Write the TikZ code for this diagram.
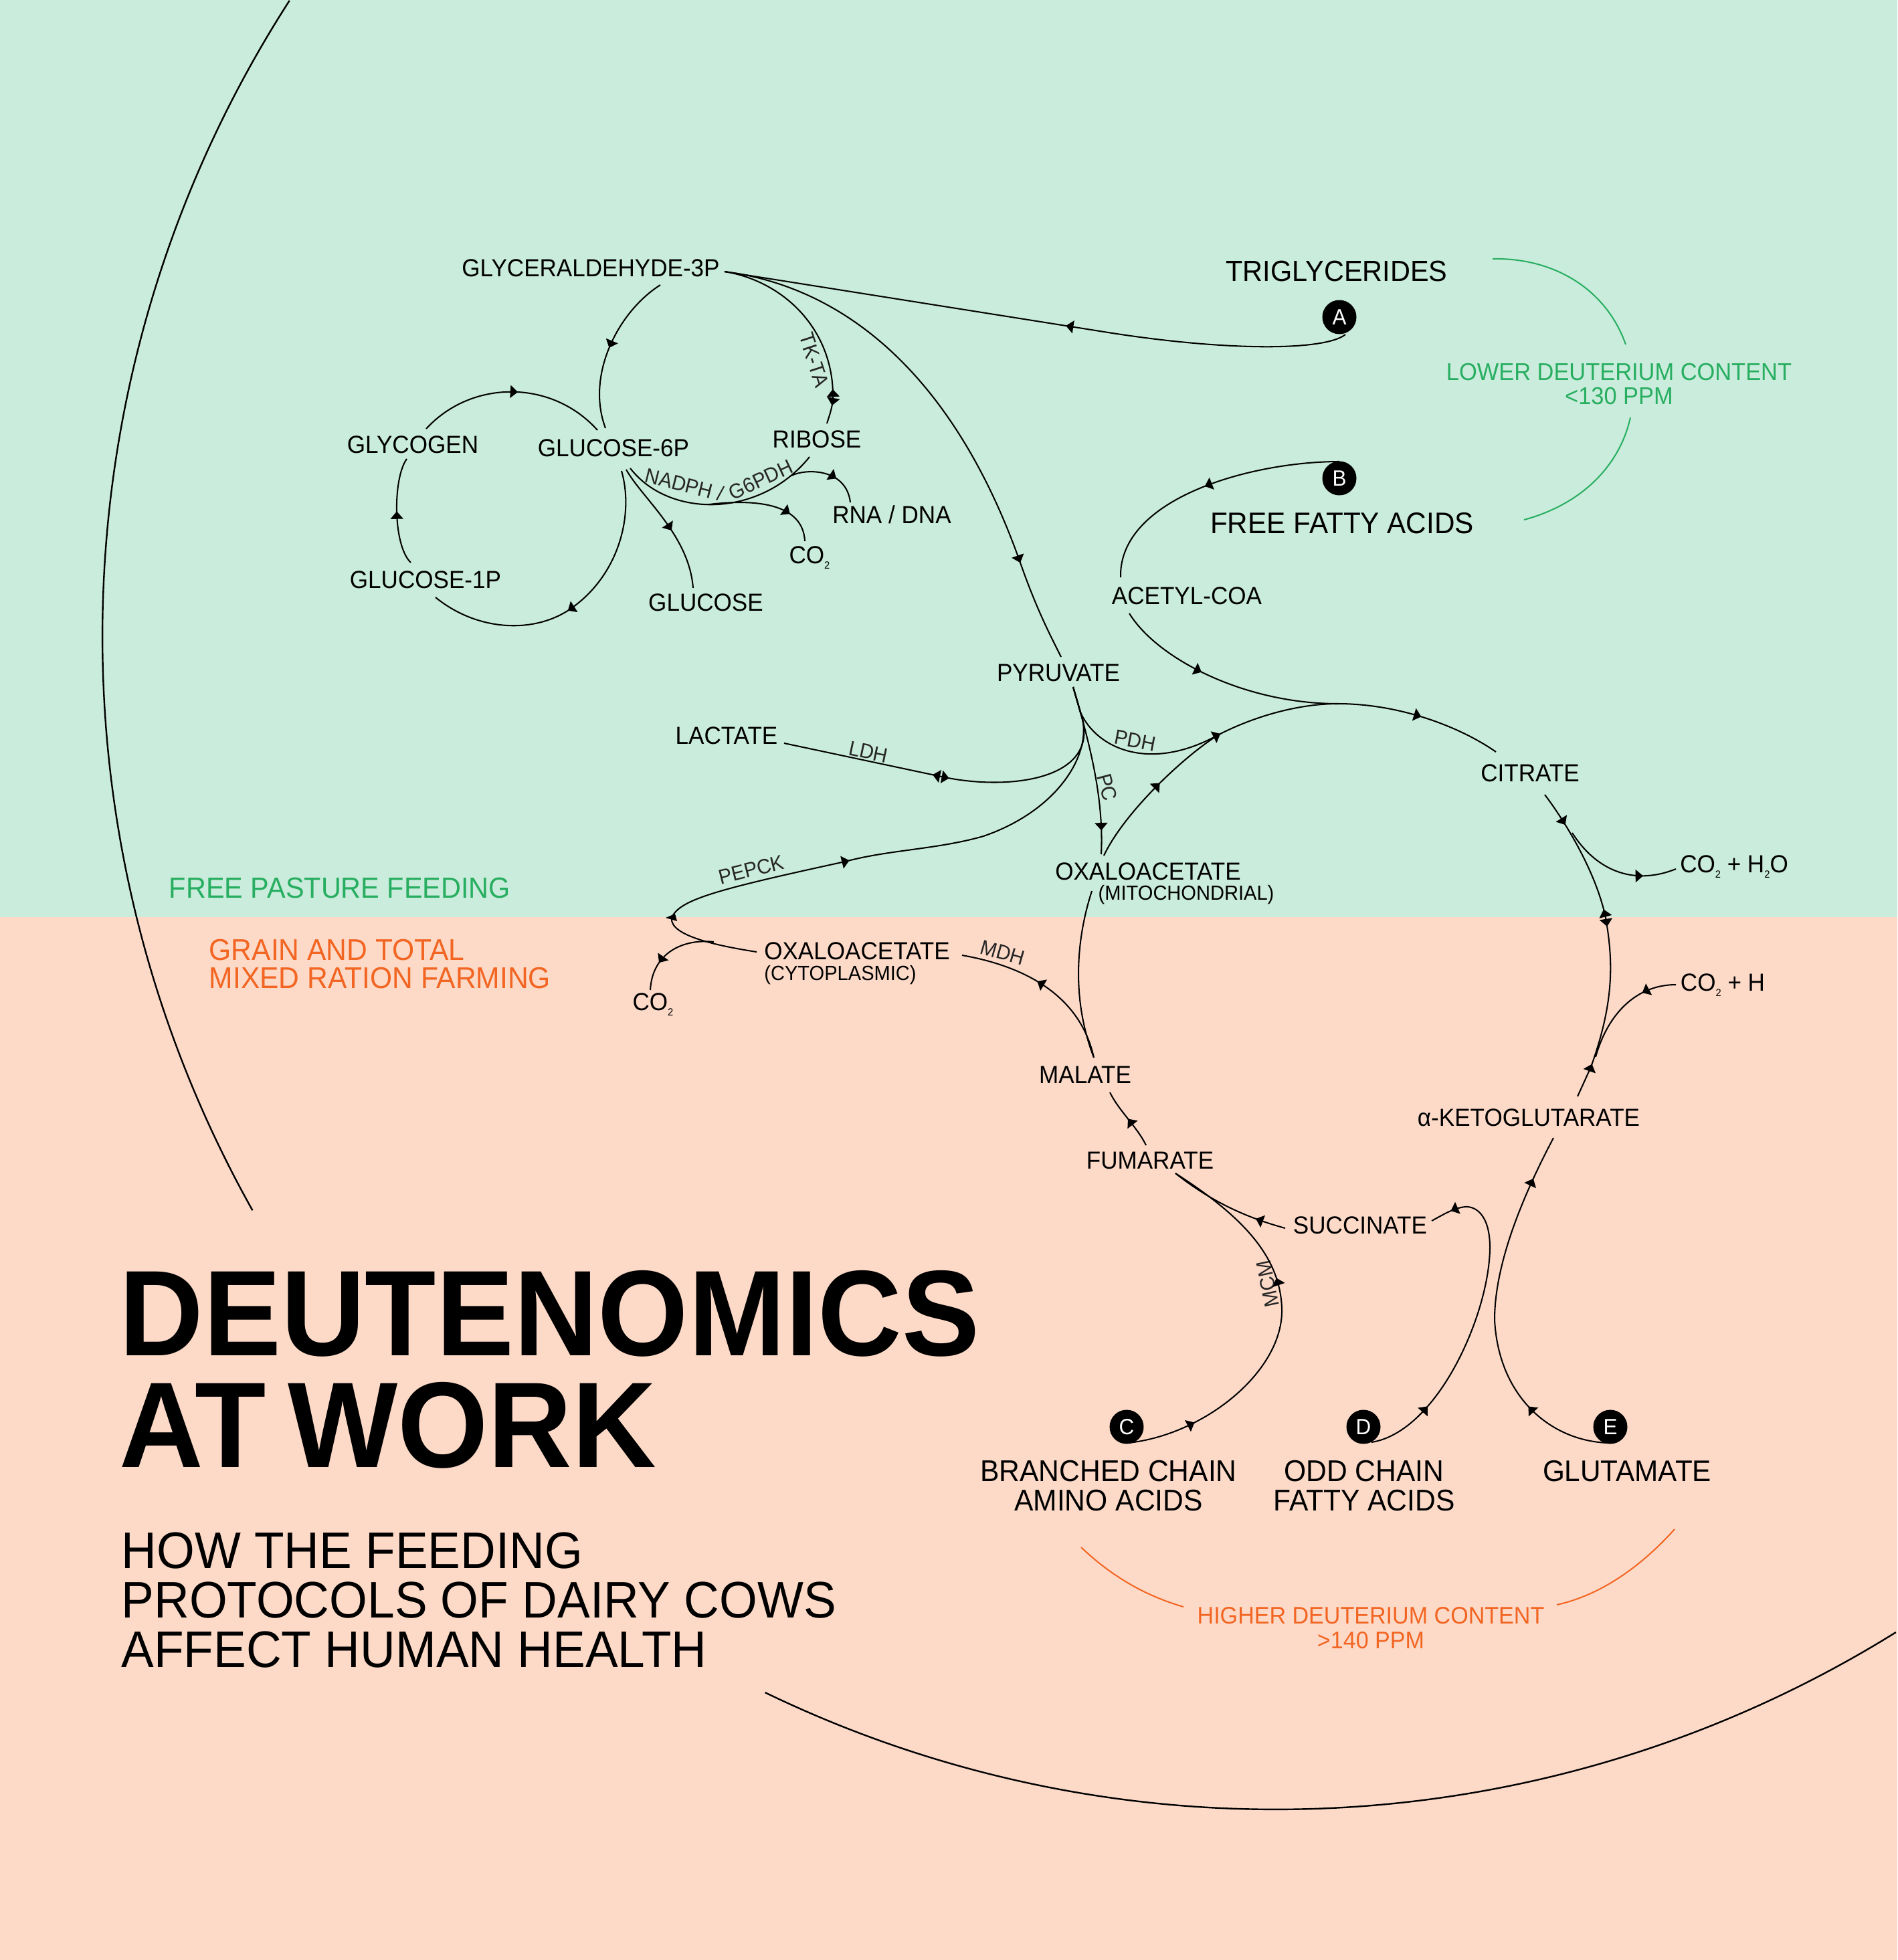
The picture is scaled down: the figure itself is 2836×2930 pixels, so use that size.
\documentclass[tikz,border=0pt]{standalone}
\usepackage{fontspec}
\setmainfont[FakeStretch=0.95]{Liberation Sans}
\newfontfamily\titlefont[FakeStretch=0.955,WordSpace=0.68]{Liberation Sans}
\usetikzlibrary{arrows.meta,decorations.markings}
\definecolor{pasture}{RGB}{202,236,220}
\definecolor{ration}{RGB}{253,218,200}
\definecolor{lowgreen}{RGB}{39,174,96}
\definecolor{highorange}{RGB}{242,101,34}
\newcommand{\subtwo}{\raisebox{-.22em}{\fontsize{4.4pt}{4.4pt}\selectfont 2}}
\tikzset{
  flowtip/.tip={Triangle[length=3.2pt,width=5.4pt]},
  tipat/.style={postaction={decorate,decoration={markings,mark=at position #1 with {\arrow{flowtip}}}}},
  tipback/.style={postaction={decorate,decoration={markings,mark=at position #1 with {\arrowreversed{flowtip}}}}},
  flow/.style={draw,line width=0.58pt},
  ring/.style={draw,line width=0.68pt},
  metab/.style={inner sep=0pt,text height=7.5pt,text depth=0pt,font=\fontsize{10.5pt}{12pt}\selectfont},
  metablg/.style={inner sep=0pt,text height=9.05pt,text depth=0pt,font=\fontsize{12.65pt}{14pt}\selectfont},
  metabsm/.style={inner sep=0pt,text height=6.25pt,text depth=0pt,font=\fontsize{8.7pt}{10pt}\selectfont},
  multilg/.style={inner sep=0pt,align=center,font=\fontsize{12.75pt}{12.5pt}\selectfont},
  enzyme/.style={inner sep=0pt,text=black!85,font=\fontsize{8.8pt}{10pt}\selectfont},
  badge/.style={circle,fill=black,text=white,inner sep=0pt,minimum size=14.5pt,font=\fontsize{9.4pt}{10pt}\selectfont},
  lownote/.style={inner sep=0pt,align=center,text=lowgreen,font=\fontsize{10.3pt}{10.5pt}\selectfont},
  highnote/.style={inner sep=0pt,align=center,text=highorange,font=\fontsize{10.2pt}{10.5pt}\selectfont},
  lowarc/.style={draw=lowgreen,line width=0.58pt},
  higharc/.style={draw=highorange,line width=0.58pt},
}
\begin{document}
\begin{tikzpicture}[x=0.01cm,y=-0.01cm]
\useasboundingbox (0,0) rectangle (2836,2930);
\fill[pasture] (0,0) rectangle (2836,1371);
\fill[ration] (0,1371) rectangle (2836,2930);

\coordinate (ringcenter) at (1907,951);
\draw[ring] (ringcenter) ++(212.8:1754) arc[start angle=212.8,end angle=150.7,radius=1754];
\draw[ring] (ringcenter) ++(115.8:1754) arc[start angle=115.8,end angle=58.1,radius=1754];

\node[metab] (g3p) at (883,400) {GLYCERALDEHYDE-3P};
\node[metab] (glycogen) at (617,664) {GLYCOGEN};
\node[metab] (g6p) at (917,669) {GLUCOSE-6P};
\node[metab] (ribose) at (1221,656) {RIBOSE};
\node[metab] (rna) at (1333,769) {RNA / DNA};
\node[metab] (co2a) at (1210,829) {CO\subtwo};
\node[metab] (g1p) at (636,866) {GLUCOSE-1P};
\node[metab] (glucose) at (1055,900) {GLUCOSE};
\node[metab] (acetyl) at (1774,890) {ACETYL-COA};
\node[metab] (pyruvate) at (1582,1005) {PYRUVATE};
\node[metab] (lactate) at (1086,1099) {LACTATE};
\node[metab] (citrate) at (2287,1155) {CITRATE};
\node[metab] (co2h2o) at (2592,1291) {CO\subtwo\ + H\subtwo O};
\node[metab] (oaamit) at (1716,1302) {OXALOACETATE};
\node[metabsm] (mito) at (1773,1334) {(MITOCHONDRIAL)};
\node[metab] (oaacyt) at (1281,1421) {OXALOACETATE};
\node[metabsm] (cyto) at (1256,1454) {(CYTOPLASMIC)};
\node[metab] (co2b) at (976,1497) {CO\subtwo};
\node[metab] (co2h) at (2575,1468) {CO\subtwo\ + H};
\node[metab] (malate) at (1622,1606) {MALATE};
\node[metab] (akg) at (2285,1670) {α-KETOGLUTARATE};
\node[metab] (fumarate) at (1719,1734) {FUMARATE};
\node[metab] (succinate) at (2033,1831) {SUCCINATE};

\node[metablg,font=\fontsize{12.4pt}{14pt}\selectfont] (tri) at (1998,405) {TRIGLYCERIDES};
\node[metablg] (ffa) at (2006,782) {FREE FATTY ACIDS};
\node[multilg] (branched) at (1657,2221) {BRANCHED CHAIN\\AMINO ACIDS};
\node[multilg] (oddchain) at (2039,2221) {ODD CHAIN\\FATTY ACIDS};
\node[metablg] (glutamate) at (2432,2199) {GLUTAMATE};

\node[badge] (nodeA) at (2002,474) {A};
\node[badge] (nodeB) at (2002,715) {B};
\node[badge] (nodeC) at (1684,2133) {C};
\node[badge] (nodeD) at (2038,2133) {D};
\node[badge] (nodeE) at (2407,2133) {E};

\node[lownote] (lownotes) at (2420,574) {LOWER DEUTERIUM CONTENT\\<130 PPM};
\node[highnote] (highnotes) at (2049,2434) {HIGHER DEUTERIUM CONTENT\\>140 PPM};
\node[inner sep=0pt,text=lowgreen,font=\fontsize{12.4pt}{12.4pt}\selectfont] (freefeed) at (508,1327) {FREE PASTURE FEEDING};
\node[inner sep=0pt,anchor=west,align=left,text=highorange,font=\fontsize{12.75pt}{12.2pt}\selectfont] (grainfeed) at (312,1441) {GRAIN AND TOTAL\\MIXED RATION FARMING};

\node[inner sep=0pt,anchor=west,align=left,font=\titlefont\bfseries\fontsize{51.8pt}{47.5pt}\selectfont] (title) at (178,2047) {DEUTENOMICS\\AT WORK};
\node[inner sep=0pt,anchor=west,align=left,font=\fontsize{21.85pt}{21.15pt}\selectfont] (subtitle) at (181,2392) {HOW THE FEEDING\\PROTOCOLS OF DAIRY COWS\\AFFECT HUMAN HEALTH};

\node[enzyme,rotate=-72] (tkta) at (1217,538) {TK-TA};
\node[enzyme,rotate=-14] (nadph) at (1023,724) {NADPH /};
\node[enzyme,rotate=25] (g6pdh) at (1137,717) {G6PDH};
\node[enzyme,rotate=-12] (ldh) at (1298,1124) {LDH};
\node[enzyme,rotate=-11] (pdh) at (1697,1107) {PDH};
\node[enzyme,rotate=-75] (pc) at (1655,1177) {PC};
\node[enzyme,rotate=14] (pepck) at (1123,1300) {PEPCK};
\node[enzyme,rotate=-16] (mdh) at (1499,1424) {MDH};
\node[enzyme,rotate=102] (mcm) at (1895,1919) {MCM};

\coordinate (co2fork) at (1060,754);
\coordinate (rnafork) at (1183,711);
\coordinate (co2cfork) at (1067,1408);
\coordinate (h2ofork) at (2350,1245);
\coordinate (cohfork) at (2385,1580);

\draw[flow,tipat=.45] ([shift={(9,26)}]nodeA.center) .. controls (1980,525) and (1830,525) .. (1650,496) -- ([shift={(200,6)}]g3p.center);
\draw[flow,tipat=.5] ([shift={(104,26)}]g3p.center) .. controls (925,465) and (875,560) .. ([shift={(-12,-29)}]g6p.center);
\draw[flow,tipat=.91,tipback=.832] ([shift={(200,6)}]g3p.center) .. controls (1170,420) and (1243,490) .. (1245,588) .. controls (1246,605) and (1240,620) .. ([shift={(15,-23)}]ribose.center);
\draw[flow,tipat=.81] ([shift={(200,6)}]g3p.center) .. controls (1270,430) and (1430,570) .. (1526,844) .. controls (1550,912) and (1570,950) .. ([shift={(4,-23)}]pyruvate.center);
\draw[flow,tipat=.53] ([shift={(20,-23)}]glycogen.center) .. controls (705,567) and (825,567) .. ([shift={(-24,-26)}]g6p.center);
\draw[flow,tipat=.5] ([shift={(-22,-25)}]g1p.center) .. controls (587,815) and (587,715) .. ([shift={(-9,22)}]glycogen.center);
\draw[flow,tipat=.53] ([shift={(12,35)}]g6p.center) .. controls (948,770) and (925,860) .. (853,910) .. controls (800,947) and (715,945) .. ([shift={(15,27)}]g1p.center);
\draw[flow,tipat=.55] ([shift={(19,33)}]g6p.center) .. controls (960,745) and (1030,800) .. ([shift={(-19,-21)}]glucose.center);
\draw[flow] ([shift={(25,31)}]g6p.center) .. controls (1000,775) and (1136,775) .. ([shift={(-11,27)}]ribose.center);
\draw[flow,tipat=.72] (co2fork) .. controls (1110,748) and (1200,745) .. ([shift={(-7,-20)}]co2a.center);
\draw[flow,tipat=.62] (rnafork) .. controls (1205,700) and (1265,700) .. ([shift={(-62,-18)}]rna.center);

\draw[flow,tipat=.51] ([shift={(0,-25)}]nodeB.center) .. controls (1870,690) and (1672,745) .. ([shift={(-99,-27)}]acetyl.center);
\draw[flow,tipat=.40] ([shift={(-86,27)}]acetyl.center) .. controls (1730,985) and (1860,1052) .. (2000,1052);
\draw[flow,tipat=.2,tipat=.37,tipat=.82] ([shift={(-66,-23)}]oaamit.center) .. controls (1680,1215) and (1770,1130) .. (1822,1098) .. controls (1875,1071) and (1940,1052) .. (2000,1052) .. controls (2090,1052) and (2180,1085) .. ([shift={(-51,-31)}]citrate.center);
\draw[flow] ([shift={(22,22)}]pyruvate.center) -- (1615,1065) .. controls (1640,1120) and (1720,1155) .. (1822,1098);
\draw[flow,tipat=.86] ([shift={(22,22)}]pyruvate.center) .. controls (1630,1115) and (1650,1195) .. ([shift={(-70,-25)}]oaamit.center);
\draw[flow,tipat=.45,tipback=.405] ([shift={(86,12)}]lactate.center) -- (1412,1162) .. controls (1510,1182) and (1640,1165) .. (1618,1075) -- ([shift={(22,22)}]pyruvate.center);
\draw[flow,tipat=.46] ([shift={(-150,2)}]oaacyt.center) .. controls (1080,1415) and (1000,1400) .. (1004,1372) .. controls (1015,1345) and (1070,1330) .. (1263,1288) .. controls (1330,1270) and (1400,1270) .. (1470,1250) .. controls (1580,1212) and (1630,1130) .. (1618,1075) -- ([shift={(22,22)}]pyruvate.center);
\fill (995,1372) -- (1009,1366) -- (1012,1377) -- cycle;
\draw[flow,tipat=.68] (co2cfork) .. controls (1020,1403) and (975,1425) .. ([shift={(-4,-17)}]co2b.center);
\draw[flow] ([shift={(-84,30)}]oaamit.center) .. controls (1610,1400) and (1600,1490) .. ([shift={(13,-25)}]malate.center);
\draw[flow,tipat=.55] ([shift={(13,-25)}]malate.center) .. controls (1615,1490) and (1535,1445) .. ([shift={(157,7)}]oaacyt.center);
\draw[flow,tipat=.5] ([shift={(-6,-22)}]fumarate.center) .. controls (1700,1685) and (1672,1660) .. ([shift={(37,27)}]malate.center);
\draw[flow,tipat=.25] ([shift={(-112,5)}]succinate.center) .. controls (1870,1822) and (1815,1800) .. ([shift={(38,20)}]fumarate.center);
\draw[flow,tipat=.175,tipat=.63] ([shift={(2,24)}]nodeC.center) .. controls (1800,2145) and (1918,2050) .. (1916,1957) .. controls (1914,1880) and (1860,1820) .. ([shift={(38,20)}]fumarate.center);
\draw[flow,tipat=.205,tipat=.935] ([shift={(12,23)}]nodeD.center) .. controls (2150,2140) and (2228,1960) .. (2227,1862) .. controls (2226,1815) and (2205,1803) .. (2190,1804) .. controls (2172,1806) and (2155,1817) .. ([shift={(107,-6)}]succinate.center);
\draw[flow,tipat=.24,tipat=.88] ([shift={(-2,24)}]nodeE.center) .. controls (2320,2155) and (2240,2090) .. (2234,1973) .. controls (2234,1890) and (2275,1790) .. ([shift={(37,31)}]akg.center);
\draw[flow,tipat=.113,tipat=.456,tipback=.402,tipback=.89] ([shift={(22,33)}]citrate.center) .. controls (2335,1222) and (2385,1300) .. (2400,1372) .. controls (2412,1440) and (2412,1500) .. (2378,1595) -- ([shift={(73,-31)}]akg.center);
\draw[flow,tipat=.72] (h2ofork) .. controls (2385,1300) and (2440,1325) .. ([shift={(-87,8)}]co2h2o.center);
\draw[flow,tipat=.3] ([shift={(-70,4)}]co2h.center) .. controls (2450,1472) and (2405,1510) .. (cohfork);

\draw[lowarc] ([shift={(233,-18)}]tri.center) .. controls (2320,385) and (2400,430) .. ([shift={(10,-59)}]lownotes.center);
\draw[lowarc] ([shift={(17,50)}]lownotes.center) .. controls (2420,700) and (2360,755) .. ([shift={(272,-5)}]ffa.center);
\draw[higharc] ([shift={(-41,92)}]branched.center) .. controls (1660,2355) and (1710,2385) .. ([shift={(-280,-32)}]highnotes.center);
\draw[higharc] ([shift={(278,-35)}]highnotes.center) .. controls (2390,2385) and (2450,2345) .. ([shift={(71,87)}]glutamate.center);
\end{tikzpicture}
\end{document}
